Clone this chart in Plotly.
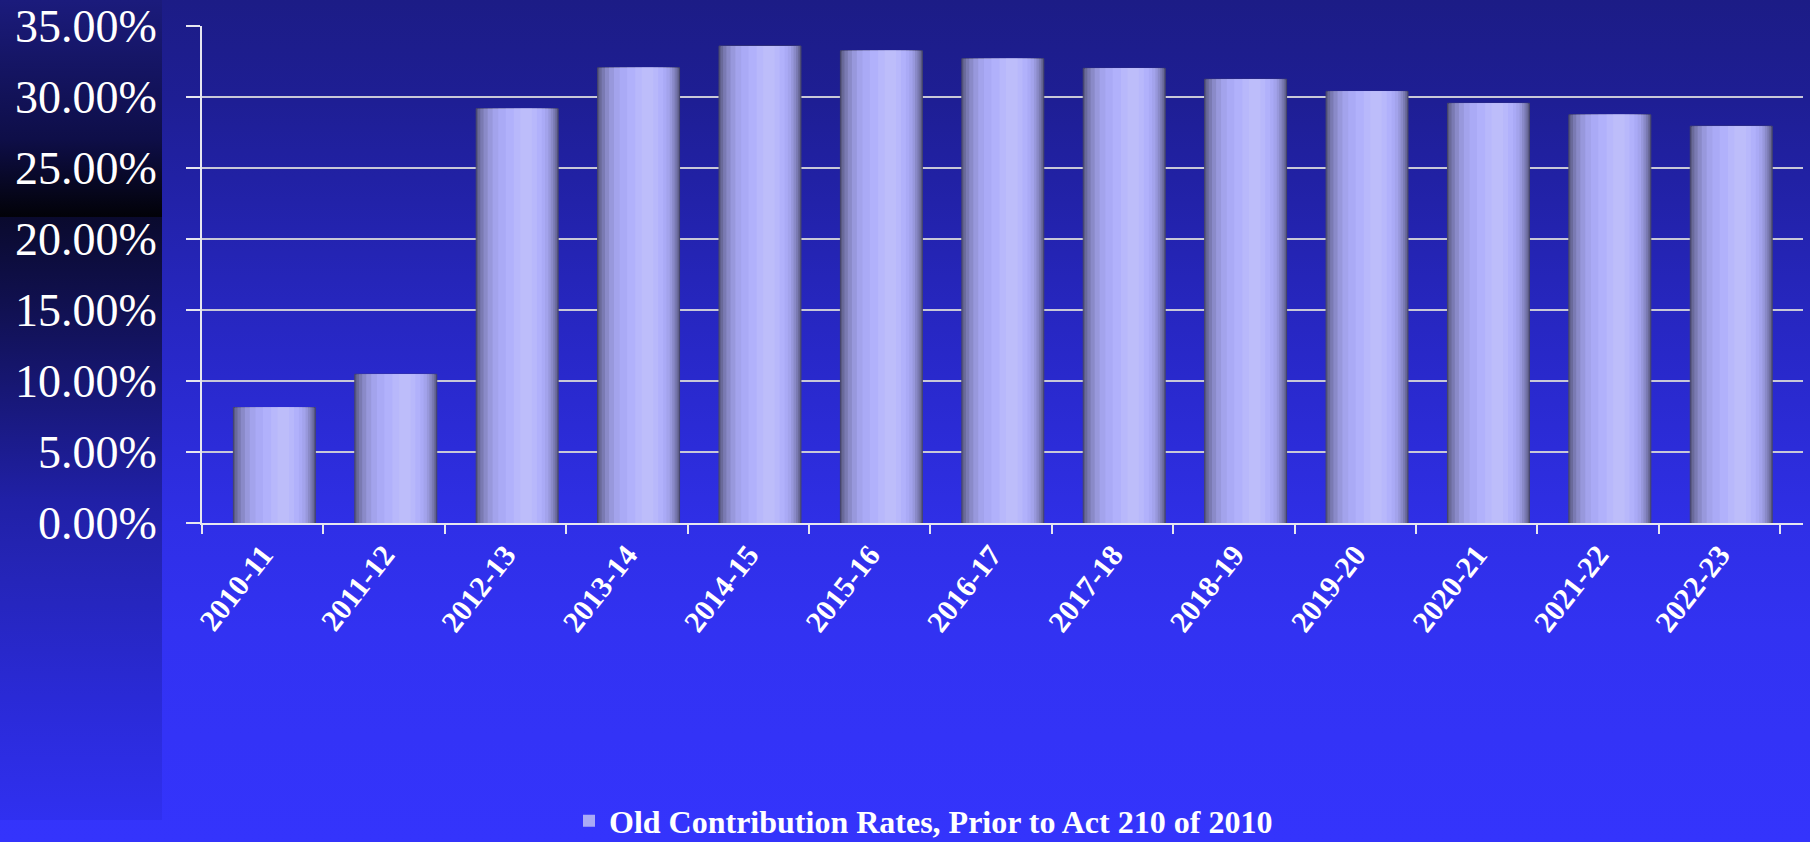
import base64
import plotly.graph_objects as go

# ---------------- data ----------------
categories = ["2010-11", "2011-12", "2012-13", "2013-14", "2014-15", "2015-16", "2016-17",
              "2017-18", "2018-19", "2019-20", "2020-21", "2021-22", "2022-23"]
old_rates = [8.15, 10.49, 29.18, 32.06, 33.59, 33.26, 32.70, 32.02, 31.25, 30.40, 29.56, 28.75, 27.95]
series_name = "Old Contribution Rates, Prior to Act 210 of 2010"
y_ticks = [0, 5, 10, 15, 20, 25, 30, 35]
y_tick_labels = [f"{v:.2f}%" for v in y_ticks]

# ---------------- styling ----------------
W, H = 1810, 842
BAR_W = 0.675
BAR_SHIFT = 0.096  # bars sit slightly right of category centre (3D look)
# nested shading layers: (left fraction, right fraction, colour)
layers = [
    (0.00, 1.000, "#5a5a82"),
    (0.02, 0.985, "#6a6a9a"),
    (0.05, 0.965, "#7a7ab2"),
    (0.09, 0.940, "#8a8ac8"),
    (0.14, 0.910, "#9898dc"),
    (0.20, 0.880, "#a3a3ec"),
    (0.27, 0.840, "#aaaaf6"),
    (0.36, 0.800, "#b1b1fb"),
    (0.46, 0.740, "#b8b8fb"),
    (0.54, 0.680, "#bdbdfa"),
]


def grad_svg(stops):
    st = "".join(f'<stop offset="{o}" stop-color="{c}"/>' for o, c in stops)
    svg = ('<svg xmlns="http://www.w3.org/2000/svg" viewBox="0 0 100 100" width="100" height="100" '
           'preserveAspectRatio="none">'
           '<defs><linearGradient id="g" x1="0" y1="0" x2="0" y2="1">' + st +
           '</linearGradient></defs><rect x="0" y="0" width="100" height="100" fill="url(#g)"/></svg>')
    return "data:image/svg+xml;base64," + base64.b64encode(svg.encode()).decode()


main_bg = grad_svg([(0, "#1c1c86"), (0.12, "#1e1e94"), (0.42, "#2828c8"),
                    (0.62, "#2f2fe6"), (0.75, "#3232f2"), (1.0, "#3434fc")])
strip_bg = grad_svg([(0, "#1b1b7c"), (0.17, "#0e0e48"), (0.264, "#020208"), (0.2645, "#0a0a2e"),
                     (0.366, "#10104e"), (0.49, "#18187a"), (0.61, "#2020a6"), (0.68, "#2424b4"),
                     (0.85, "#2a2ad6"), (1.0, "#3030f0")])

fig = go.Figure()
left_edge = BAR_SHIFT - BAR_W / 2
legend_layer = 6
for i, (l, r, c) in enumerate(layers):
    fig.add_trace(go.Bar(
        x=categories, y=old_rates,
        width=(r - l) * BAR_W,
        offset=left_edge + l * BAR_W,
        marker=dict(color=c, line=dict(color="#45456a" if i == 0 else c, width=1 if i == 0 else 0)),
        name=series_name,
        showlegend=(i == legend_layer),
        hoverinfo="skip" if i != legend_layer else None,
    ))

x0 = 202 / W
x1 = 1803 / W
y_bot = 1 - 523.3 / H
y_top = 1 - 26 / H

serif = "Liberation Serif, Times New Roman, serif"
fig.update_layout(
    width=W, height=H,
    margin=dict(l=0, r=0, t=0, b=0, pad=0, autoexpand=False),
    barmode="overlay",
    paper_bgcolor="#3333f8",
    plot_bgcolor="rgba(0,0,0,0)",
    showlegend=True,
    legend=dict(
        x=569 / W, y=1 - 821 / H, xanchor="left", yanchor="middle",
        bgcolor="rgba(0,0,0,0)",
        font=dict(family=serif, size=32, color="white", weight="bold"),
        orientation="h",
    ),
    images=[
        dict(source=main_bg, xref="paper", yref="paper", x=0, y=1, sizex=1, sizey=1,
             sizing="stretch", xanchor="left", yanchor="top", layer="below"),
        dict(source=strip_bg, xref="paper", yref="paper", x=0, y=1, sizex=162 / W, sizey=820 / H,
             sizing="stretch", xanchor="left", yanchor="top", layer="below"),
    ],
    xaxis=dict(
        domain=[x0, x1],
        type="category",
        categoryorder="array", categoryarray=categories,
        range=[-0.5, len(categories) - 0.5 + 0.187],
        showline=True, linecolor="#e6e6f0", linewidth=2,
        ticks="outside", ticklen=9, tickwidth=2, tickcolor="#e6e6f0",
        tickson="boundaries",
        showgrid=False,
        tickangle=-52,
        automargin=False,
        tickfont=dict(family=serif, size=30, color="white", weight="bold"),
        fixedrange=True,
    ),
    yaxis=dict(
        domain=[y_bot, y_top],
        range=[0, 35],
        tickvals=y_ticks, ticktext=y_tick_labels,
        showgrid=True, gridcolor="#c8c8d8", gridwidth=2,
        zeroline=False,
        showline=True, linecolor="#e6e6f0", linewidth=2,
        ticks="outside", ticklen=14, tickwidth=2, tickcolor="#e6e6f0",
        ticklabelstandoff=20,
        automargin=False,
        tickfont=dict(family=serif, size=46, color="white"),
        fixedrange=True,
    ),
)

fig.write_html(
    "out.html",
    config={"displayModeBar": False},
    post_script="document.body.style.margin='0';document.body.style.overflow='hidden';",
)
